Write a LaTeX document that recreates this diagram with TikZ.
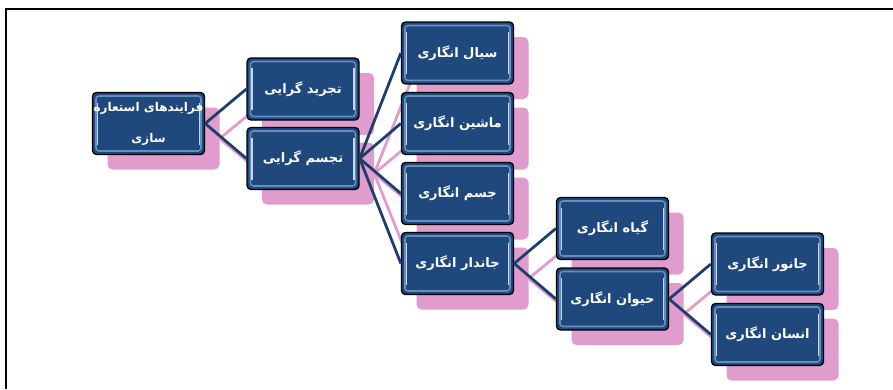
\documentclass[tikz,border=0pt]{standalone}
\usepackage{fontspec}
\newfontfamily\farsi[Script=Arabic]{DejaVu Sans}
\TeXXeTstate=1
\definecolor{boxblue}{RGB}{31,73,125}
\definecolor{boxrim}{RGB}{118,158,208}
\definecolor{linkblue}{RGB}{30,62,110}
\definecolor{shadowpink}{RGB}{224,156,204}

\begin{document}
\begin{tikzpicture}[x=1pt,y=-1pt,
	box/.style={rectangle, rounded corners=4pt, draw=black, line width=1.3pt, fill=boxblue, text=white,
		minimum width=112pt, minimum height=62pt, inner sep=1pt, align=center,
		font=\farsi\bfseries\fontsize{13}{17}\selectfont,
		path picture={
			\draw[boxrim!80!boxblue, line width=1.6pt, rounded corners=3pt]
				([shift={(3.5pt,-3.5pt)}]path picture bounding box.north west) rectangle
				([shift={(-3.5pt,3.5pt)}]path picture bounding box.south east);
			\draw[white!60!boxrim, line width=1.4pt]
				([shift={(5pt,-10pt)}]path picture bounding box.north west) --
				([shift={(5pt,10pt)}]path picture bounding box.south west);
			\draw[white!60!boxrim, line width=1.4pt]
				([shift={(-5pt,-10pt)}]path picture bounding box.north east) --
				([shift={(-5pt,10pt)}]path picture bounding box.south east);
		}},
	back/.style={rectangle, rounded corners=5pt, fill=shadowpink, minimum width=112pt, minimum height=62pt},
	link/.style={linkblue, line width=2.8pt},
	backlink/.style={shadowpink, line width=2.8pt}]
	\useasboundingbox (0,0) rectangle (893,389);

	% frame
	\draw[line width=2.2pt] (6,389) -- (6,9) -- (893,9);

	% shadows
	\node[back] (root-s) at (163.5,138.5) {};
	\node[back] (tajrid-s) at (318,104) {};
	\node[back] (tajassom-s) at (318,173.5) {};
	\node[back] (sayyal-s) at (472.5,68) {};
	\node[back] (mashin-s) at (472.5,138.5) {};
	\node[back] (jesm-s) at (472.5,208.5) {};
	\node[back] (jandar-s) at (472.5,278.5) {};
	\node[back] (giah-s) at (627.5,243.5) {};
	\node[back] (heyvan-s) at (627.5,314) {};
	\node[back] (janevar-s) at (782.5,279) {};
	\node[back] (ensan-s) at (782.5,349.5) {};

	\draw[backlink](root-s.east) -- (tajrid-s.west);
	\draw[backlink](root-s.east) -- (tajassom-s.west);
	\draw[backlink](tajassom-s.east) -- (sayyal-s.west);
	\draw[backlink](tajassom-s.east) -- (mashin-s.west);
	\draw[backlink](tajassom-s.east) -- (jesm-s.west);
	\draw[backlink](tajassom-s.east) -- (jandar-s.west);
	\draw[backlink](jandar-s.east) -- (giah-s.west);
	\draw[backlink](jandar-s.east) -- (heyvan-s.west);
	\draw[backlink](heyvan-s.east) -- (janevar-s.west);
	\draw[backlink](heyvan-s.east) -- (ensan-s.west);

	% boxes
	\node[box, inner sep=0pt, font=\farsi\bfseries\fontsize{12}{17}\selectfont] (root) at (148.5,123.5) {\beginR فرایندهای استعاره\endR\\[14pt]\beginR سازی\endR};
	\node[box] (tajrid) at (303,89) {\beginR تجرید گرایی\endR};
	\node[box] (tajassom) at (303,158.5) {\beginR تجسم گرایی\endR};
	\node[box] (sayyal) at (457.5,53) {\beginR سیال انگاری\endR};
	\node[box] (mashin) at (457.5,123.5) {\beginR ماشین انگاری\endR};
	\node[box] (jesm) at (457.5,193.5) {\beginR جسم انگاری\endR};
	\node[box] (jandar) at (457.5,263.5) {\beginR جاندار انگاری\endR};
	\node[box] (giah) at (612.5,228.5) {\beginR گیاه انگاری\endR};
	\node[box] (heyvan) at (612.5,299) {\beginR حیوان انگاری\endR};
	\node[box] (janevar) at (767.5,264) {\beginR جانور انگاری\endR};
	\node[box] (ensan) at (767.5,334.5) {\beginR انسان انگاری\endR};

	% root
	\draw[link](root.east) -- (tajrid.west);
	\draw[link](root.east) -- (tajassom.west);
	% tajassom
	\draw[link](tajassom.east) -- (sayyal.west);
	\draw[link](tajassom.east) -- (mashin.west);
	\draw[link](tajassom.east) -- (jesm.west);
	\draw[link](tajassom.east) -- (jandar.west);
	% jandar
	\draw[link](jandar.east) -- (giah.west);
	\draw[link](jandar.east) -- (heyvan.west);
	% heyvan
	\draw[link](heyvan.east) -- (janevar.west);
	\draw[link](heyvan.east) -- (ensan.west);
\end{tikzpicture}
\end{document}
